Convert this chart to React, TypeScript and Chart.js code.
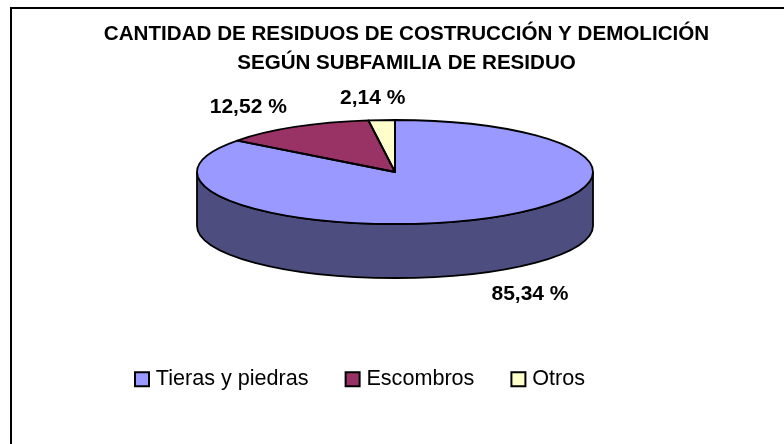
import React, { useEffect, useRef } from "react";
import { Chart, registerables } from "chart.js";

Chart.register(...registerables);

const TITLE_LINES = ["CANTIDAD DE RESIDUOS DE COSTRUCCIÓN Y DEMOLICIÓN", "SEGÚN SUBFAMILIA DE RESIDUO"];
const CATEGORIES = ["Tieras y piedras", "Escombros", "Otros"];
const VALUES = [85.34, 12.52, 2.14];
const COLORS = ["#9999FF", "#993366", "#FFFFCC"];
const WALL_COLORS = ["#4D4D80", "#4D1A33", "#808066"];
const LABEL_NUDGES = [[47, 22], [-47, -20], [-9, -22]];

const RADIUS = 198;
const SQUASH = 52 / 198;
const CENTER_X = 395;
const CENTER_Y = 172;
const DEPTH = 54;
const FONT = '"Liberation Sans", Arial, sans-serif';

const pie3d = {
  id: "pie3d",
  beforeDatasetsDraw(chart: any) {
    const ctx = chart.ctx;
    const arcs = chart.getDatasetMeta(0).data;
    ctx.save();
    arcs.forEach((arc: any, i: number) => {
      const start = Math.max(arc.startAngle, 0);
      const end = Math.min(arc.endAngle, Math.PI);
      if (end <= start) return;
      ctx.beginPath();
      ctx.ellipse(CENTER_X, CENTER_Y, RADIUS, RADIUS * SQUASH, 0, start, end);
      ctx.ellipse(CENTER_X, CENTER_Y + DEPTH, RADIUS, RADIUS * SQUASH, 0, end, start, true);
      ctx.closePath();
      ctx.fillStyle = WALL_COLORS[i];
      ctx.fill();
      ctx.lineWidth = 1.8;
      ctx.strokeStyle = "#000";
      ctx.stroke();
    });
    ctx.restore();
    const first = arcs[0];
    ctx.save();
    ctx.translate(CENTER_X, CENTER_Y);
    ctx.scale(1, SQUASH);
    ctx.translate(-first.x, -first.y);
  },
  afterDatasetsDraw(chart: any) {
    const ctx = chart.ctx;
    ctx.restore();
    const arcs = chart.getDatasetMeta(0).data;
    ctx.save();
    ctx.lineWidth = 1.8;
    ctx.strokeStyle = "#000";
    ctx.lineJoin = "round";
    arcs.forEach((arc: any) => {
      ctx.beginPath();
      ctx.moveTo(CENTER_X, CENTER_Y);
      ctx.ellipse(CENTER_X, CENTER_Y, RADIUS, RADIUS * SQUASH, 0, arc.startAngle, arc.endAngle);
      ctx.closePath();
      ctx.stroke();
    });
    ctx.font = `bold 21px ${FONT}`;
    ctx.fillStyle = "#000";
    ctx.textAlign = "center";
    ctx.textBaseline = "middle";
    arcs.forEach((arc: any, i: number) => {
      const mid = (arc.startAngle + arc.endAngle) / 2;
      const front = Math.sin(mid) > 0 ? DEPTH : 0;
      const x = CENTER_X + Math.cos(mid) * RADIUS + LABEL_NUDGES[i][0];
      const y = CENTER_Y + Math.sin(mid) * RADIUS * SQUASH + front + LABEL_NUDGES[i][1];
      ctx.fillText(`${VALUES[i].toFixed(2).replace(".", ",")} %`, x, y);
    });
    ctx.restore();
  },
};

export default function App() {
  const ref = useRef<HTMLCanvasElement>(null);
  useEffect(() => {
    document.body.style.margin = "0";
    document.body.style.overflow = "hidden";
    const chart = new Chart(ref.current as HTMLCanvasElement, {
      type: "pie",
      data: {
        labels: CATEGORIES,
        datasets: [
          {
            data: VALUES,
            backgroundColor: COLORS,
            borderWidth: 0,
            radius: RADIUS,
            clip: false,
          } as any,
        ],
      },
      options: {
        responsive: false,
        animation: false,
        layout: { padding: { left: 98, right: 69, bottom: 44, top: 0 } },
        plugins: {
          tooltip: { enabled: false },
          title: {
            display: true,
            text: TITLE_LINES,
            color: "#000",
            font: { family: FONT, size: 20.6, weight: "bold", lineHeight: 1.41 },
            padding: { top: 20, bottom: 4 },
          },
          legend: {
            position: "bottom",
            align: "start",
            labels: {
              usePointStyle: true,
              pointStyle: "rect",
              boxWidth: 6,
              boxHeight: 14,
              padding: 41,
              color: "#000",
              font: { family: FONT, size: 21.6 },
              generateLabels(c: any) {
                const base = (Chart as any).overrides.pie.plugins.legend.labels.generateLabels(c);
                return base.map((l: any) => ({ ...l, strokeStyle: "#000", lineWidth: 2 }));
              },
            },
          },
        },
      },
      plugins: [pie3d],
    } as any);
    return () => chart.destroy();
  }, []);
  return (
    <div style={{ position: "relative", width: 784, height: 444, overflow: "hidden", background: "#fff" }}>
      <div style={{ position: "absolute", left: 10, top: 7, width: 800, height: 460, borderLeft: "2px solid #000", borderTop: "2px solid #000" }} />
      <canvas ref={ref} width={784} height={444} style={{ position: "absolute", left: 0, top: 0 }} />
    </div>
  );
}
